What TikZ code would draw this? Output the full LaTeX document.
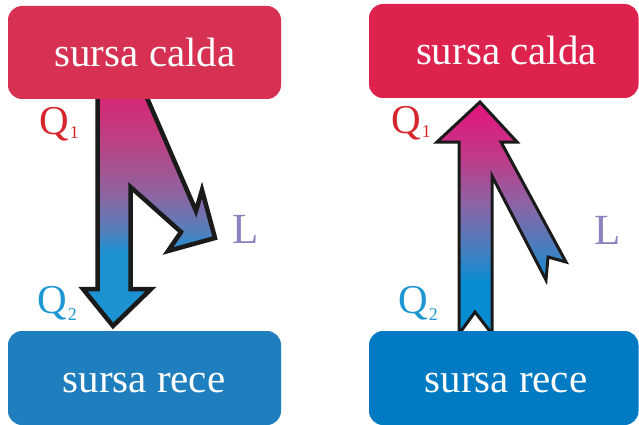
\documentclass[tikz,border=0pt]{standalone}
\usepackage{fontspec}
\setmainfont{Liberation Serif}
\definecolor{hotL}{RGB}{214,48,82}
\definecolor{hotR}{RGB}{221,34,77}
\definecolor{coldL}{RGB}{31,127,190}
\definecolor{coldR}{RGB}{0,122,194}
\definecolor{qred}{RGB}{213,38,44}
\definecolor{qblue}{RGB}{30,150,210}
\definecolor{llav}{RGB}{140,130,190}
\definecolor{outl}{RGB}{26,26,26}
\definecolor{gmagL}{RGB}{215,38,118}
\definecolor{gm1L}{RGB}{185,68,132}
\definecolor{gm2L}{RGB}{138,102,162}
\definecolor{gm3L}{RGB}{88,126,186}
\definecolor{gblueL}{RGB}{28,146,210}
\definecolor{gmagR}{RGB}{228,18,125}
\definecolor{gm1R}{RGB}{195,55,135}
\definecolor{gm2R}{RGB}{140,100,165}
\definecolor{gm3R}{RGB}{60,130,195}
\definecolor{gblueR}{RGB}{8,140,210}
\pgfdeclareverticalshading{leftgrad}{100bp}{color(0bp)=(gblueL); color(41bp)=(gblueL); color(46bp)=(gm3L); color(53bp)=(gm2L); color(64bp)=(gm1L); color(75bp)=(gmagL); color(100bp)=(gmagL)}
\pgfdeclareverticalshading{rightgrad}{100bp}{color(0bp)=(gblueR); color(36bp)=(gblueR); color(42bp)=(gm3R); color(53bp)=(gm2R); color(64bp)=(gm1R); color(75bp)=(gmagR); color(100bp)=(gmagR)}
\tikzset{
  srcbox/.style={rectangle, rounded corners=14pt, draw=none, inner sep=0pt},
  boxtext/.style={text=white, font=\fontsize{41}{41}\selectfont, anchor=base, inner sep=0pt},
  qlbl/.style={font=\fontsize{41}{41}\selectfont, anchor=base west, inner sep=0pt},
  arrowL/.style={draw=outl, line width=4.5pt, line join=miter, miter limit=10, shading=leftgrad},
  arrowR/.style={draw=outl, line width=3pt, line join=miter, miter limit=10, shading=rightgrad}
}
\newcommand{\subq}[2]{Q\kern1pt\raisebox{#1}{\fontsize{18}{18}\selectfont #2}}
\begin{document}
\begin{tikzpicture}[x=1pt,y=-1pt]
\useasboundingbox (0,0) rectangle (639,425);
% right top box first (right arrow tip sits on it)
\node[srcbox, fill=hotR, minimum width=269.5pt, minimum height=94pt] (hotRbox) at (503.75,51) {};
% left arrow
\path[arrowL] (97.5,95) -- (97.5,289) -- (83,289) -- (113,326) -- (151,289) -- (130.5,289) -- (130.5,187) -- (181,232) -- (168,251) -- (215,238) -- (202,190) -- (196,211) -- (145.8,95) -- cycle;
% right arrow
\path[arrowR] (480,102) -- (517,142) -- (501,142) -- (566,262) -- (548,257) -- (546,280) -- (492,176) -- (492,334) -- (475,312) -- (459,334) -- (459,142) -- (437,142) -- cycle;
% remaining boxes
\node[srcbox, fill=hotL, minimum width=273pt, minimum height=93pt] (hotLbox) at (144.5,52.5) {};
\node[srcbox, fill=coldL, minimum width=273pt, minimum height=94pt] (coldLbox) at (144.5,378) {};
\node[srcbox, fill=coldR, minimum width=269.5pt, minimum height=94pt] (coldRbox) at (503.75,378) {};
% box texts
\node[boxtext] (hotLtxt) at (145,67) {sursa calda};
\node[boxtext] (hotRtxt) at (506.5,65) {sursa calda};
\node[boxtext] (coldLtxt) at (144,392) {sursa rece};
\node[boxtext] (coldRtxt) at (506,392) {sursa rece};
% labels
\node[qlbl, text=qred] (q1L) at (39,134) {\subq{-4pt}{1}};
\node[qlbl, text=qblue] (q2L) at (37,313) {\subq{-7pt}{2}};
\node[qlbl, text=llav, font=\fontsize{43}{43}\selectfont] (lL) at (232,243) {L};
\node[qlbl, text=qred] (q1R) at (391,133) {\subq{-4pt}{1}};
\node[qlbl, text=qblue] (q2R) at (398,313) {\subq{-7pt}{2}};
\node[qlbl, text=llav, font=\fontsize{43}{43}\selectfont] (lR) at (594,244) {L};
\end{tikzpicture}
\end{document}
